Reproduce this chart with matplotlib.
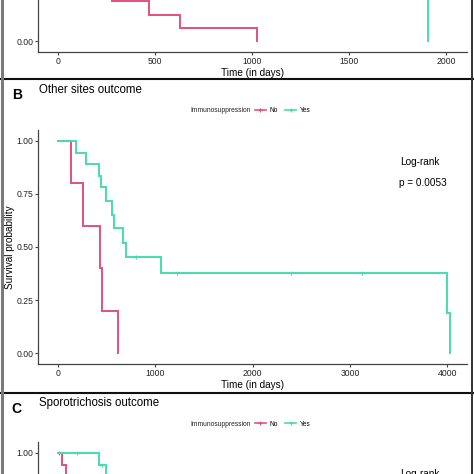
"""Kaplan-Meier style survival panels (cropped multi-panel figure)."""

import matplotlib
matplotlib.use("Agg")
import matplotlib.pyplot as plt
from matplotlib.lines import Line2D

plt.rcParams['font.family'] = ['Liberation Sans', 'DejaVu Sans']

W, H = 474, 474
RED = '#E3517D'
GREEN = '#45DDB0'
AXIS = '#444444'

# Panel A (only the lower part is visible)
a_no_time = [0, 280, 470, 630, 1025]
a_no_surv = [0.40, 0.1875, 0.125, 0.0625, 0.0]
a_yes_time = [0, 1905]
a_yes_surv = [0.50, 0.0]

# Panel B: Other sites outcome
b_no_time = [0, 134, 255, 430, 455, 615]
b_no_surv = [1.0, 0.80, 0.60, 0.40, 0.20, 0.0]
b_yes_time = [0, 185, 290, 425, 440, 495, 555, 580, 670, 700, 1055, 3995, 4025]
b_yes_surv = [1.0, 0.944, 0.889, 0.835, 0.78, 0.714, 0.652, 0.587, 0.52, 0.455, 0.38, 0.19, 0.0]
b_yes_cens_time = [800, 1225, 2395, 3125]
b_yes_cens_surv = [0.455, 0.38, 0.38, 0.38]

# Panel C: Sporotrichosis outcome (only the top is visible)
c_no_time = [0, 45, 85]
c_no_surv = [1.0, 0.94, 0.80]
c_no_cens_time = [5]
c_no_cens_surv = [1.0]
c_yes_time = [0, 425, 495]
c_yes_surv = [1.0, 0.94, 0.85]
c_yes_cens_time = [195, 450]
c_yes_cens_surv = [1.0, 0.94]

a_xticks = [0, 500, 1000, 1500, 2000]
b_xticks = [0, 1000, 2000, 3000, 4000]
yticks = [0.0, 0.25, 0.50, 0.75, 1.00]


def add_px_axes(fig, left, right, top, bottom):
    return fig.add_axes([left / W, 1 - bottom / H, (right - left) / W, (bottom - top) / H])


def style_axes(ax, xlim, xticks, ytick_list):
    ax.set_xlim(*xlim)
    ax.set_ylim(-0.05, 1.05)
    ax.set_xticks(xticks)
    ax.set_yticks(ytick_list)
    ax.set_yticklabels([f'{v:.2f}' for v in ytick_list])
    for side in ['top', 'right']:
        ax.spines[side].set_visible(False)
    for side in ['left', 'bottom']:
        ax.spines[side].set_color(AXIS)
        ax.spines[side].set_linewidth(0.9)
    ax.tick_params(length=2, width=0.8, color=AXIS, labelsize=6.2, labelcolor='#222222', pad=1.5)
    ax.patch.set_alpha(0)


def draw_curve(ax, t, s, color, ct=None, cs=None):
    ax.step(t, s, where='post', color=color, lw=1.4, solid_joinstyle='miter')
    if ct:
        ax.plot(ct, cs, ls='none', marker='+', ms=3.5, mew=0.8, color=color)


def add_legend(fig, y_px):
    fig.text(190 / W, 1 - y_px / H, 'Immunosuppression', fontsize=4.8, va='center', ha='left', color='#222222')
    handles = [Line2D([], [], color=RED, lw=1.2, marker='+', ms=3.5, mew=0.8),
               Line2D([], [], color=GREEN, lw=1.2, marker='+', ms=3.5, mew=0.8)]
    fig.legend(handles, ['No', 'Yes'], ncol=2, loc='center left',
               bbox_to_anchor=(255 / W, 1 - y_px / H), frameon=False, fontsize=4.8,
               handlelength=1.6, handletextpad=0.5, columnspacing=1.2, borderpad=0, borderaxespad=0)


fig = plt.figure(figsize=(W / 100, H / 100), dpi=100)

# Panel A
ax_a = add_px_axes(fig, 38, 467, 52 - 234, 52)
draw_curve(ax_a, a_no_time, a_no_surv, RED)
draw_curve(ax_a, a_yes_time, a_yes_surv, GREEN)
style_axes(ax_a, (-103, 2108), a_xticks, [0.0])
ax_a.set_xlabel('Time (in days)', fontsize=7.2, labelpad=1.5)

# Panel B
ax_b = add_px_axes(fig, 38, 467, 130, 364)
draw_curve(ax_b, b_no_time, b_no_surv, RED)
draw_curve(ax_b, b_yes_time, b_yes_surv, GREEN, b_yes_cens_time, b_yes_cens_surv)
style_axes(ax_b, (-206, 4204), b_xticks, yticks)
ax_b.set_xlabel('Time (in days)', fontsize=7.2, labelpad=1.5)
ax_b.set_ylabel('Survival probability', fontsize=7.2, labelpad=0.8)
ax_b.text(3515, 0.90, 'Log-rank', fontsize=7.2, va='center', ha='left')
ax_b.text(3505, 0.80, 'p = 0.0053', fontsize=7.2, va='center', ha='left')
fig.text(12 / W, 1 - 95 / H, 'B', fontsize=10, fontweight='bold', va='center')
fig.text(39 / W, 1 - 90 / H, 'Other sites outcome', fontsize=8.3, va='center')
add_legend(fig, 111)

# Panel C
ax_c = add_px_axes(fig, 38, 467, 442, 442 + 234)
draw_curve(ax_c, c_no_time, c_no_surv, RED, c_no_cens_time, c_no_cens_surv)
draw_curve(ax_c, c_yes_time, c_yes_surv, GREEN, c_yes_cens_time, c_yes_cens_surv)
style_axes(ax_c, (-206, 4204), [], [1.0])
ax_c.text(3515, 0.90, 'Log-rank', fontsize=7.2, va='center', ha='left')
fig.text(11 / W, 1 - 409 / H, 'C', fontsize=10, fontweight='bold', va='center')
fig.text(39 / W, 1 - 403 / H, 'Sporotrichosis outcome', fontsize=8.3, va='center')
add_legend(fig, 424)

# panel frames
for y in [79, 393]:
    fig.add_artist(Line2D([0, 1], [1 - y / H] * 2, color='#111111', lw=1.5))
fig.add_artist(Line2D([1.5 / W] * 2, [0, 1], color='#7a7a7a', lw=2.2))
fig.add_artist(Line2D([471.5 / W] * 2, [0, 1], color='#333333', lw=1.4))

fig.savefig('out.png', dpi=100)
